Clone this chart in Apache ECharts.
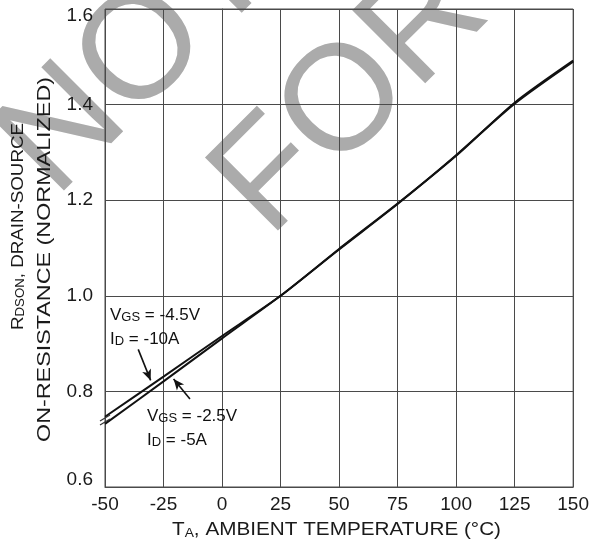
<!DOCTYPE html>
<html><head><meta charset="utf-8">
<script src="https://cdn.jsdelivr.net/npm/echarts@6/dist/echarts.min.js"></script>
<style>html,body{margin:0;padding:0;background:#fff}#c{width:592px;height:543px}</style>
</head><body><div id="c"></div>
<script>
// ---- data ----
const temps = [-50, -25, 0, 25, 50, 75, 100, 125, 150];
const rdsonVgs45 = [0.747, 0.831, 0.916, 1.000, 1.098, 1.193, 1.293, 1.404, 1.492];
const rdsonVgs25 = [0.732, 0.821, 0.911, 1.000, 1.097, 1.192, 1.294, 1.402, 1.490];
const xTickMin = -50, xTickMax = 150, xTickStep = 25;
const yTickMin = 0.6, yTickMax = 1.6, yTickStep = 0.2;
const arrowVgs45 = [[-35.8, 0.888], [-30.5, 0.823]];
const arrowVgs25 = [[-13.7, 0.784], [-20.7, 0.826]];
const breakAt = 0.74;

const FONT = '"Liberation Sans", Arial, Helvetica, sans-serif';
const BLACK = '#111';
const GRIDC = '#4a4a4a';

function measure(parts) {
  const ctx = document.createElement('canvas').getContext('2d');
  let w = 0;
  parts.forEach(([t, s]) => { ctx.font = s + 'px ' + FONT; w += ctx.measureText(t).width; });
  return w;
}

const chart = echarts.init(document.getElementById('c'), null, {renderer: 'canvas'});

const pairs45 = temps.map((t, i) => [t, rdsonVgs45[i]]);
const pairs25 = temps.map((t, i) => [t, rdsonVgs25[i]]);

const option = {
  animation: false,
  backgroundColor: '#fff',
  grid: {left: 105, top: 9, width: 478, height: 478, show: true, borderColor: GRIDC, borderWidth: 1, containLabel: false},
  xAxis: {
    type: 'value', min: xTickMin, max: xTickMax, interval: xTickStep,
    axisLine: {show: true, lineStyle: {color: GRIDC, width: 1}},
    axisTick: {show: false},
    splitLine: {show: true, lineStyle: {color: GRIDC, width: 1}},
    axisLabel: {color: '#1a1a1a', fontSize: 19, fontFamily: FONT, margin: 8}
  },
  yAxis: {
    type: 'value', min: yTickMin, max: yTickMax, interval: yTickStep,
    axisLine: {show: true, lineStyle: {color: GRIDC, width: 1}},
    axisTick: {show: false},
    splitLine: {show: true, lineStyle: {color: GRIDC, width: 1}},
    axisLabel: {
      color: '#1a1a1a', fontSize: 19, fontFamily: FONT, margin: 12,
      formatter: function (v) {
        const s = v.toFixed(1);
        if (Math.abs(v - yTickMax) < 1e-6) return '{t|' + s + '}';
        if (Math.abs(v - yTickMin) < 1e-6) return '{b|' + s + '}';
        return s;
      },
      rich: {
        t: {fontSize: 19, fontFamily: FONT, color: '#1a1a1a', padding: [14, 0, 0, 0]},
        b: {fontSize: 19, fontFamily: FONT, color: '#1a1a1a', padding: [0, 0, 14, 0]}
      }
    }
  },
  series: [
    {
      name: 'VGS=-4.5V', type: 'line', data: pairs45, smooth: 0.25, showSymbol: false, symbol: 'none',
      lineStyle: {color: BLACK, width: 2}, z: 5,
      markLine: {
        silent: true, symbol: ['none', 'arrow'], symbolSize: [7, 11],
        label: {show: false}, lineStyle: {color: BLACK, width: 1.6, type: 'solid'},
        data: [[{coord: arrowVgs45[0]}, {coord: arrowVgs45[1]}]]
      }
    },
    {
      name: 'VGS=-2.5V', type: 'line', data: pairs25, smooth: 0.25, showSymbol: false, symbol: 'none',
      lineStyle: {color: BLACK, width: 2}, z: 5,
      markLine: {
        silent: true, symbol: ['none', 'arrow'], symbolSize: [7, 11],
        label: {show: false}, lineStyle: {color: BLACK, width: 1.6, type: 'solid'},
        data: [[{coord: arrowVgs25[0]}, {coord: arrowVgs25[1]}]]
      }
    }
  ]
};
chart.setOption(option);

// ---- graphics (titles, annotations, watermark) ----
const g = [];
// watermark
const wmStyle = {fill: '#ababab', font: '150px ' + FONT, align: 'left', verticalAlign: 'middle'};
g.push({type: 'text', x: 26, y: 170, rotation: Math.PI / 4, z: -100, silent: true,
  style: Object.assign({text: 'NOT RECOMMENDED'}, wmStyle)});
g.push({type: 'text', x: 240, y: 210, rotation: Math.PI / 4, z: -100, silent: true,
  style: Object.assign({text: 'FOR NEW DESIGN'}, wmStyle)});

// y-axis title line 1
const yl1w = measure([['R', 17], ['DSON', 12], [', DRAIN-SOURCE', 17]]);
g.push({type: 'text', x: 18, y: 226.5, rotation: Math.PI / 2, scaleX: 207 / yl1w, silent: true,
  style: {
    text: '{a|R}{s|DSON}{a|, DRAIN-SOURCE}', align: 'center', verticalAlign: 'middle',
    rich: {
      a: {fontSize: 17, fontFamily: FONT, fill: '#1a1a1a', lineHeight: 18},
      s: {fontSize: 12, fontFamily: FONT, fill: '#1a1a1a', lineHeight: 6, verticalAlign: 'bottom'}
    }
  }});
const yl2w = measure([['ON-RESISTANCE (NORMALIZED)', 18]]);
g.push({type: 'text', x: 45, y: 259.5, rotation: Math.PI / 2, scaleX: 365 / yl2w, silent: true,
  style: {text: 'ON-RESISTANCE (NORMALIZED)', align: 'center', verticalAlign: 'middle',
    font: '18px ' + FONT, fill: '#1a1a1a'}});

// x-axis title
const xlw = measure([['T', 18], ['A', 12], [', AMBIENT TEMPERATURE (°C)', 18]]);
g.push({type: 'text', x: 336.5, y: 530, scaleX: 329 / xlw, silent: true,
  style: {
    text: '{a|T}{s|A}{a|, AMBIENT TEMPERATURE (°C)}', align: 'center', verticalAlign: 'middle',
    rich: {
      a: {fontSize: 18, fontFamily: FONT, fill: '#1a1a1a', lineHeight: 19},
      s: {fontSize: 12, fontFamily: FONT, fill: '#1a1a1a', lineHeight: 6, verticalAlign: 'bottom'}
    }
  }});

// annotations
const annRich = {
  v: {fontSize: 17, fontFamily: FONT, fill: '#111', lineHeight: 17, verticalAlign: 'bottom'},
  s: {fontSize: 13, fontFamily: FONT, fill: '#111', lineHeight: 13, verticalAlign: 'bottom'}
};
function ann(x, y, text) {
  g.push({type: 'text', x: x, y: y, silent: true, z: 50,
    style: {text: text, align: 'left', verticalAlign: 'middle', rich: annRich}});
}
ann(110, 315, '{v|V}{s|GS}{v| = -4.5V}');
ann(110, 339, '{v|I}{s|D}{v| = -10A}');
ann(147, 416, '{v|V}{s|GS}{v| = -2.5V}');
ann(147, 440.5, '{v|I}{s|D}{v| = -5A}');

// y-axis break mark
const bx = chart.convertToPixel({xAxisIndex: 0}, xTickMin);
const by = chart.convertToPixel({yAxisIndex: 0}, breakAt);
[-2, 2].forEach(function (d) {
  g.push({type: 'line', silent: true, z: 60,
    shape: {x1: bx - 5, y1: by + 3 + d, x2: bx + 5, y2: by - 3 + d},
    style: {stroke: '#333', lineWidth: 1.2}});
});

chart.setOption({graphic: g});
</script>
</body></html>
